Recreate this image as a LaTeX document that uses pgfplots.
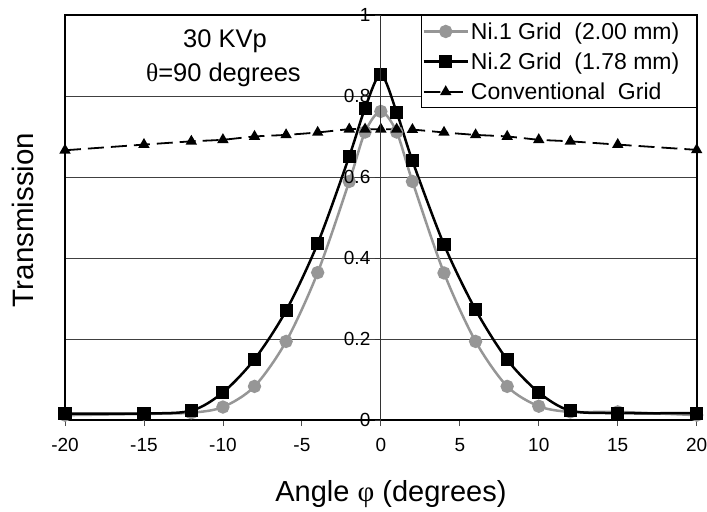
\documentclass[border=0pt]{standalone}
\usepackage{pgfplots}
\pgfplotsset{compat=1.18}
\usepackage{fontspec}
\setmainfont{Liberation Sans}
\newfontfamily\symfont{Liberation Serif}
\newcommand\tl{\fontsize{19bp}{21bp}\selectfont}

\pgfplotstableread{
x    ni1    ni2    conv
-20  0.012  0.016  0.666
-15  0.015  0.016  0.680
-12  0.018  0.023  0.688
-10  0.032  0.068  0.692
-8   0.083  0.150  0.700
-6   0.194  0.270  0.704
-4   0.364  0.436  0.710
-2   0.589  0.651  0.718
-1   0.711  0.770  0.718
0    0.762  0.853  0.718
1    0.711  0.760  0.718
2    0.589  0.640  0.717
4    0.363  0.433  0.710
6    0.194  0.272  0.704
8    0.083  0.149  0.700
10   0.034  0.068  0.692
12   0.020  0.023  0.688
15   0.020  0.017  0.680
20   0.012  0.017  0.667
}\datatable

\definecolor{nigray}{RGB}{150,150,150}

\begin{document}
\begin{tikzpicture}
\begin{axis}[
  name=main,
  scale only axis, width=631.7bp, height=405bp,
  xmin=-20, xmax=20, ymin=0, ymax=1,
  xtick={-20,-15,-10,-5,0,5,10,15,20},
  xticklabels={-20,-15,-10,-5,0,5,10,15,20},
  ytick={0.2,0.4,0.6,0.8,1}, yticklabels={},
  ymajorgrids, major grid style={black!75, line width=0.8bp},
  axis line style={line width=1.6bp},
  xtick pos=lower, ytick pos=left,
  x tick style={black!70, line width=0.8bp}, y tick style={draw=none},
  tick align=outside, major tick length=6bp,
  xticklabel style={font=\tl, yshift=-9bp},
  xlabel={Angle {\symfont φ} (degrees)},
  xlabel style={font=\fontsize{29bp}{32bp}\selectfont, at={(axis description cs:0.516,-0.183)}, anchor=center},
  ylabel={Transmission},
  ylabel style={font=\fontsize{29.5bp}{32bp}\selectfont, at={(axis description cs:-0.0665,0.494)}, anchor=center},
  legend style={at={(1,1)}, anchor=north east, draw=black, line width=0.8bp, fill=white,
    font=\fontsize{23bp}{25bp}\selectfont, row sep=8bp, inner xsep=1bp, inner ysep=5bp,
    nodes={inner sep=2bp}},
  legend cell align=left,
  legend image code/.code={%
    \draw[mark repeat=2,mark phase=2,#1] plot coordinates {(0bp,0bp) (22bp,0bp) (44bp,0bp)};},
]
\addplot[nigray, line width=2.5bp, smooth, mark=*, mark size=5.4bp, mark options={solid, fill=nigray, draw=nigray}]
  table[x=x, y=ni1] {\datatable};
\addlegendentry{Ni.1 Grid\ \ (2.00 mm)\hspace*{14bp}}
\addplot[black, line width=2.5bp, smooth, mark=square*, mark size=5.3bp, mark options={solid, fill=black}]
  table[x=x, y=ni2] {\datatable};
\addlegendentry{Ni.2 Grid\ \ (1.78 mm)}
\addplot[black, line width=1.8bp, smooth, dash pattern=on 16bp off 7bp, mark=triangle*, mark size=4.8bp, mark options={solid, fill=black}]
  table[x=x, y=conv] {\datatable};
\addlegendentry{Conventional\ \ Grid}
\node[font=\fontsize{25.5bp}{28bp}\selectfont] at (axis cs:-9.87,0.934) {30 KVp};
\node[font=\fontsize{25.5bp}{28bp}\selectfont] at (axis cs:-9.97,0.851) {{\symfont θ}=90 degrees};
\end{axis}
\begin{axis}[
  scale only axis, width=631.7bp, height=405bp,
  xmin=-20, xmax=20, ymin=0, ymax=1,
  axis x line=none, axis y line=center,
  axis line style={-, black!80, line width=0.8bp},
  ytick={0,0.2,0.4,0.6,0.8,1},
  yticklabels={0,0.2,0.4,0.6,0.8,1},
  yticklabel style={font=\tl, xshift=-1bp},
  y tick style={black!80, line width=0.8bp},
  tick align=outside, major tick length=6bp,
]
\end{axis}
\pgfresetboundingbox
\path (-65bp,-92bp) rectangle (642bp,420bp);
\end{tikzpicture}
\end{document}
